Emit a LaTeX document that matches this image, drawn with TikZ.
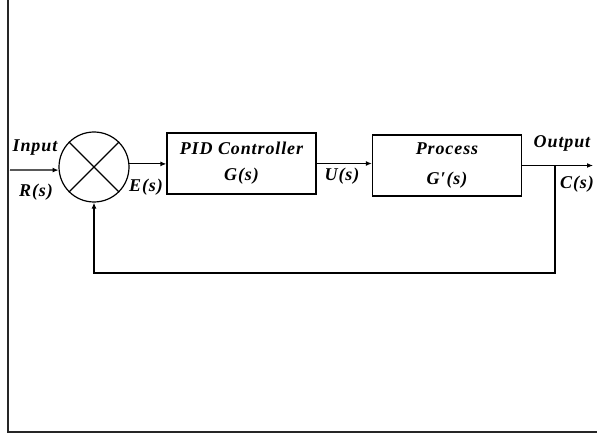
\documentclass[tikz,border=0pt]{standalone}
\usepackage{fontspec}
\setmainfont{Liberation Serif}
\newfontfamily\lblfont[LetterSpace=5]{Liberation Serif}
\usetikzlibrary{arrows.meta}
\usetikzlibrary{positioning}

\tikzset{
  blk/.style={draw,line width=1.2pt,minimum width=149pt,minimum height=61pt,align=center,inner sep=0pt},
  lbl/.style={font=\lblfont\fontsize{18}{18}\selectfont\bfseries\itshape,inner sep=0pt},
  sig/.style={line width=1.2pt,-{Latex[length=6pt,width=5pt]}},
  wire/.style={line width=1.2pt}
}

\begin{document}
\begin{tikzpicture}[x=1pt,y=1pt]
\useasboundingbox (0,0) rectangle (597,437);
% frame
\draw[line width=2pt,black!85] (8,437) -- (8,5) -- (597,5);

% summing junction
\node[draw,circle,line width=1.2pt,minimum size=70pt,inner sep=0pt] (sum) at (94,270) {};
\draw[wire] (sum.135) -- (sum.315);
\draw[wire] (sum.45) -- (sum.225);

% blocks
\node[blk,lbl] (pid) at (241.5,273.5) {PID Controller\\[8pt]G(s)};
\node[blk,lbl] (proc) at (447,271.5) {Process\\[12pt]G′(s)};

% signal nodes
\coordinate (in) at (10,267);
\coordinate (out) at (593,271.5);
\coordinate (tap) at (555,271.5);
\coordinate (fb) at (555,164);

% connectors
\draw[sig] (in) -- (sum.185);
\draw[sig] (sum.5) -- (sum.5 -| pid.west);
\draw[sig] (pid.east) -- (pid.east -| proc.west);
\draw[sig] (proc.east) -- (out);
\draw[sig] (tap) -- (fb) -- (fb -| sum.south) -- (sum.south);

% labels
\node[lbl] (lin) at (35,289) {Input};
\node[lbl] (lr) at (36,245) {R(s)};
\node[lbl] (le) at (146,250) {E(s)};
\node[lbl] (lu) at (342,261) {U(s)};
\node[lbl] (lout) at (562,294) {Output};
\node[lbl] (lc) at (577,253) {C(s)};

\end{tikzpicture}
\end{document}
